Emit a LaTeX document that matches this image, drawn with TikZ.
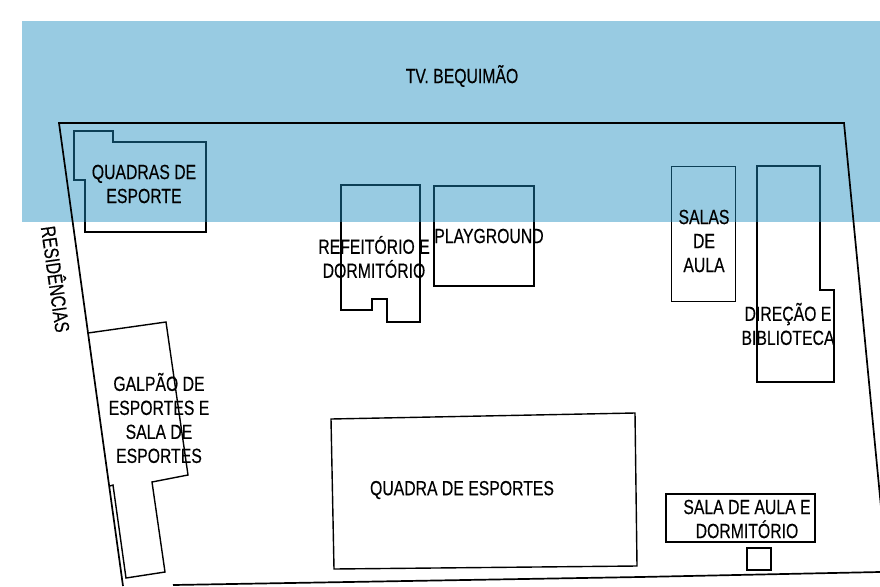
\documentclass[tikz,border=0pt]{standalone}
\usepackage{fontspec}
\setmainfont[FakeStretch=0.77,FakeBold=0.3]{Liberation Sans}
\tikzset{
    predio/.style={draw=black, line width=1.4pt, line join=miter},
    rotulo/.style={align=center, inner sep=0pt, text=black, font=\fontsize{20.5}{24}\selectfont},
}
\definecolor{faixa}{rgb}{0.11,0.55,0.75}

\begin{document}
\begin{tikzpicture}[x=1pt,y=-1pt]
    \useasboundingbox (0,0) rectangle (880,586);
    \fill[white] (0,0) rectangle (880,586);

    % predios
    \draw[predio] (74,131) -- (113,131) -- (113,142) -- (206,142) -- (206,232)
        -- (85,232) -- (85,180) -- (74,180) -- cycle;
    \draw[predio] (341,185) -- (420,185) -- (420,322) -- (387,322) -- (387,299)
        -- (372,299) -- (372,310) -- (341,310) -- cycle;
    \draw[predio] (434,186) rectangle (534,286);
    \draw[predio, line width=0.9pt] (671,166) rectangle (735,301);
    \draw[predio] (757,166) -- (820,166) -- (820,290) -- (834,290) -- (834,382)
        -- (757,382) -- cycle;
    \draw[predio] (88,333) -- (166,322) -- (188,475) -- (152,482) -- (165,572)
        -- (126,578) -- (113,485) -- (110,486);
    \draw[predio] (331,419) -- (635,413) -- (637,566) -- (334,569) -- cycle;
    \draw[predio] (666,494) rectangle (815,542);
    \draw[predio] (747,548) rectangle (771,570);

    % rua
    \fill[faixa, opacity=0.45] (22,21) rectangle (880,222);

    % terreno
    \draw[predio, line width=1.7pt] (123,586) -- (59,123) -- (844,123) -- (881,507);
    \draw[predio, line width=1.7pt] (173,585) -- (640,577) -- (880,572);

    % textos
    \node[rotulo] (quadras) at (144,184) {QUADRAS DE\\ESPORTE};
    \node[rotulo] (refeitorio) at (374,257) {REFEITÓRIO E\\DORMITÓRIO};
    \node[rotulo] (playground) at (489,236) {PLAYGROUND};
    \node[rotulo] (salas) at (704,241) {SALAS\\DE\\AULA};
    \node[rotulo] (direcao) at (788,324) {DIREÇÃO E\\BIBLIOTECA};
    \node[rotulo] (galpao) at (159,418) {GALPÃO DE\\ESPORTES E\\SALA DE\\ESPORTES};
    \node[rotulo] (quadra) at (462,490) {QUADRA DE ESPORTES};
    \node[rotulo] (salaaula) at (747,519) {SALA DE AULA E\\DORMITÓRIO};
    \node[rotulo] (rua) at (462,76) {TV. BEQUIMÃO};
    \node[rotulo, rotate=-82] (residencias) at (57,279) {RESIDÊNCIAS};
\end{tikzpicture}
\end{document}
